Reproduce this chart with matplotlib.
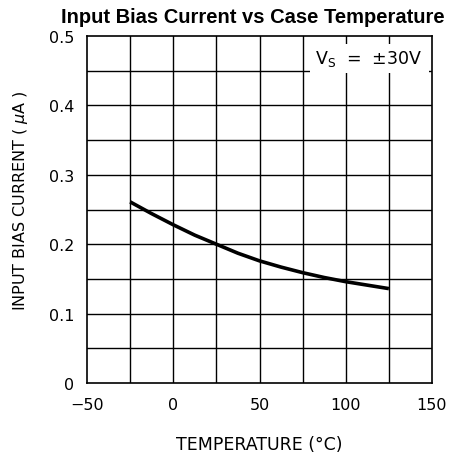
import numpy as np
import matplotlib
matplotlib.use("Agg")
import matplotlib.pyplot as plt
from matplotlib.patches import Rectangle

# temperature (degC) vs input bias current (uA)
temp = [-25, -12.5, 0, 12.5, 25, 37.5, 50, 62.5, 75, 87.5, 100, 112.5, 125]
ibias = [0.261, 0.244, 0.228, 0.213, 0.200, 0.187, 0.176, 0.167, 0.159,
         0.152, 0.146, 0.141, 0.136]

xticks = [-50, 0, 50, 100, 150]
yticks = [0, 0.1, 0.2, 0.3, 0.4, 0.5]
yticklabels = ["0", "0.1", "0.2", "0.3", "0.4", "0.5"]

fig = plt.figure(figsize=(4.56, 4.60), dpi=100)
ax = fig.add_axes([87/456, 1-384/460, (432-87)/456, (384-37)/460])

# grid every 25 degC / 0.05 uA
for gx in np.arange(-25, 150, 25):
    ax.axvline(gx, color="black", lw=1.0, zorder=1)
for gy in np.arange(0.05, 0.5, 0.05):
    ax.axhline(gy, color="black", lw=1.0, zorder=1)

ax.plot(temp, ibias, color="black", lw=2.6, zorder=3,
        solid_capstyle="butt", solid_joinstyle="round")

ax.set_xlim(-50, 150)
ax.set_ylim(0, 0.5)
ax.set_xticks(xticks)
ax.set_yticks(yticks)
ax.set_yticklabels(yticklabels)
ax.tick_params(length=0, labelsize=11.5, pad=10)
ax.tick_params(axis="y", pad=9)
for s in ax.spines.values():
    s.set_linewidth(1.2)

ax.set_xlabel("TEMPERATURE (°C)", fontsize=12.5, labelpad=17)
ax.set_ylabel("INPUT BIAS CURRENT ( $\\mu$A )", fontsize=11.5)
ax.yaxis.set_label_coords(-0.165, 0.527)

# white label box over the grid
ax.add_patch(Rectangle((0.646, 0.893), 0.345, 0.084, transform=ax.transAxes,
                       fc="white", ec="none", zorder=2))
ax.text(0.816, 0.937, "V$_\\mathregular{S}$  =  ±30V", transform=ax.transAxes,
        ha="center", va="center", fontsize=12.5, zorder=4)

fig.text(0.554, 0.963, "Input Bias Current vs Case Temperature",
         ha="center", va="center", fontsize=14.5, fontweight="bold",
         family="Liberation Sans")

fig.savefig("out.png", dpi=100)
